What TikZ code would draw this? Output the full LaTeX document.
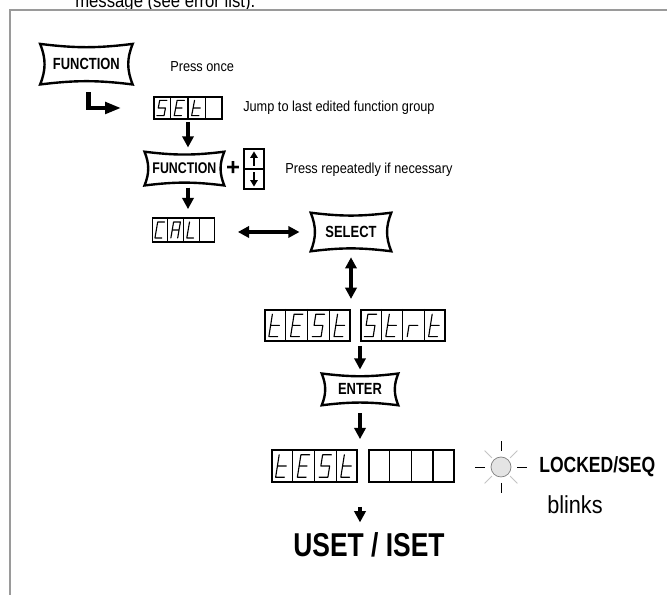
\documentclass[tikz,border=0pt]{standalone}
\usepackage{fontspec}
\setmainfont{Liberation Sans}
\newfontfamily\condfont[FakeStretch=0.8]{Liberation Sans}
\newfontfamily\bodyfont[FakeStretch=0.88]{Liberation Sans}
\usepackage{tikz}
\usetikzlibrary{arrows.meta,calc,positioning}
\definecolor{frameGray}{HTML}{9A9A9A}
\definecolor{ledFill}{HTML}{E4E4E4}
\definecolor{ledRay}{HTML}{C4C4C4}
\tikzset{
  manual diagram/.style={line cap=butt, line join=miter},
  push key/.style={inner sep=0pt, font=\condfont\bfseries\fontsize{11.5}{13}\selectfont},
  key line/.style={draw=black, line width=1.7pt, line join=miter},
  disp/.style={draw=black, line width=1.2pt, inner sep=0pt},
  cell line/.style={draw=black, line width=0.8pt},
  seg line/.style={draw=black, line width=0.8pt, line join=round, line cap=round},
  step arrow/.style={-{Triangle[length=2.8mm,width=2.8mm]}, line width=2.5pt},
  both arrow/.style={{Triangle[length=2.8mm,width=2.8mm]}-{Triangle[length=2.8mm,width=2.8mm]}, line width=2.5pt},
  turn arrow/.style={-{Triangle[length=4mm,width=2.8mm]}, line width=3pt},
  small arrow/.style={-{Triangle[length=1.6mm,width=1.8mm]}, line width=1.5pt},
  arrow key/.style={draw=black, line width=1.2pt, minimum size=0.5cm, inner sep=0pt},
  note/.style={font=\bodyfont\fontsize{10.3}{12}\selectfont, anchor=west, inner sep=0pt},
  frame line/.style={draw=frameGray, line width=1pt},
  led/.style={circle, draw=gray, fill=ledFill, line width=0.5pt, minimum size=0.5cm, inner sep=0pt},
  led tick/.style={draw=black, line width=0.6pt},
  led ray/.style={draw=ledRay, line width=0.6pt},
  pics/gS/.style={code={\draw[seg line] (0.14,0.2) -- (-0.06,0.2) -- (-0.1,0) -- (0.1,0) -- (0.06,-0.2) -- (-0.14,-0.2);}},
  pics/gE/.style={code={\draw[seg line] (0.14,0.2) -- (-0.06,0.2) -- (-0.14,-0.2) -- (0.06,-0.2) (-0.1,0) -- (0.08,0);}},
  pics/gt/.style={code={\draw[seg line] (-0.06,0.2) -- (-0.14,-0.2) -- (0.06,-0.2) (-0.1,0) -- (0.1,0);}},
  pics/gr/.style={code={\draw[seg line] (-0.14,-0.2) -- (-0.1,0) -- (0.1,0);}},
  pics/gC/.style={code={\draw[seg line] (0.14,0.2) -- (-0.06,0.2) -- (-0.14,-0.2) -- (0.06,-0.2);}},
  pics/gA/.style={code={\draw[seg line] (-0.14,-0.2) -- (-0.06,0.2) -- (0.14,0.2) -- (0.06,-0.2) (-0.1,0) -- (0.1,0);}},
  pics/gL/.style={code={\draw[seg line] (-0.06,0.2) -- (-0.14,-0.2) -- (0.06,-0.2);}},
  pics/gn/.style={code={}}
}
% outline of a push key round a named node
\newcommand\keyoutline[1]{%
  \draw[key line] (#1.north west) to[bend right=7] (#1.north east)
    to[bend right=22] (#1.south east) to[bend right=7] (#1.south west)
    to[bend right=22] (#1.north west) -- cycle;}
% four-cell display: name, glyphs, glyph options
\newcommand\segdisplay[3]{%
  \foreach \i in {1,2,3}
    \draw[cell line] ($(#1.north west)!\i/4!(#1.north east)$) -- ($(#1.south west)!\i/4!(#1.south east)$);
  \foreach \g [count=\i] in {#2}
    \pic[#3] at ($(#1.west)!{(\i-0.5)/4}!(#1.east)$) {g\g};}

\begin{document}
\begin{tikzpicture}[manual diagram]
\useasboundingbox (0,0) rectangle (16.675,14.875);
\node[anchor=base west, inner sep=0pt, font=\bodyfont\fontsize{13.5}{15}\selectfont] (head) at (1.875,14.69) {message (see error list).};
\draw[frame line] (0.25,0) -- (0.25,14.625) -- (16.675,14.625);

% keys
\node[push key, minimum width=2.3cm, minimum height=1.0cm] (f1) at (2.16,13.27) {FUNCTION};
\node[push key, minimum width=1.98cm, minimum height=0.83cm, font=\condfont\bfseries\fontsize{11}{12}\selectfont] (f2) at (4.61,10.66) {FUNCTION};
\node[push key, minimum width=2.0cm, minimum height=0.95cm] (sel) at (8.775,9.075) {SELECT};
\node[push key, minimum width=1.9cm, minimum height=0.78cm] (enter) at (9.0,5.14) {ENTER};
\keyoutline{f1}
\keyoutline{f2}
\keyoutline{sel}
\keyoutline{enter}
\node[inner sep=0pt, font=\bfseries\fontsize{17}{18}\selectfont] (plus) at (5.83,10.65) {+};
\node[arrow key] (up) at (6.35,10.9) {};
\node[arrow key] (down) at (6.35,10.4) {};
\draw[small arrow] ([yshift=-0.17cm]up.center) -- ([yshift=0.19cm]up.center);
\draw[small arrow] ([yshift=0.17cm]down.center) -- ([yshift=-0.19cm]down.center);

% displays
\node[disp, minimum width=1.7cm, minimum height=0.55cm] (set) at (4.70,12.175) {};
\segdisplay{set}{S,E,t}{xscale=0.9,yscale=0.95}
\node[disp, minimum width=1.55cm, minimum height=0.6cm] (cal) at (4.59,9.125) {};
\segdisplay{cal}{C,A,L}{xscale=0.85,yscale=1.0}
\node[disp, minimum width=2.13cm, minimum height=0.78cm] (tst) at (7.69,6.74) {};
\segdisplay{tst}{t,E,S,t}{xscale=1.1,yscale=1.4}
\node[disp, minimum width=2.1cm, minimum height=0.78cm, right=0.22cm of tst] (strt) {};
\segdisplay{strt}{S,t,r,t}{xscale=1.1,yscale=1.4}
\node[disp, minimum width=2.13cm, minimum height=0.8cm] (tst2) at (7.86,3.225) {};
\segdisplay{tst2}{t,E,S,t}{xscale=1.1,yscale=1.4}
\node[disp, minimum width=2.13cm, minimum height=0.8cm, right=0.25cm of tst2] (blank) {};
\segdisplay{blank}{n}{}

% texts
\node[note] (once) at (4.25,13.22) {Press once};
\node[note] (jump) at (6.075,12.175) {Jump to last edited function group};
\node[note] (repeat) at (7.125,10.625) {Press repeatedly if necessary};
\node[inner sep=0pt, font=\condfont\bfseries\fontsize{23.5}{26}\selectfont] (uset) at (9.225,1.25) {USET / ISET};

% status lamp
\node[led] (led) at (12.525,3.2) {};
\foreach \a in {0,90,180,270}
  \draw[led tick] ([shift={(\a:0.4)}]led.center) -- ([shift={(\a:0.66)}]led.center);
\foreach \a in {45,135,225,315}
  \draw[led ray] ([shift={(\a:0.32)}]led.center) -- ([shift={(\a:0.58)}]led.center);
\node[anchor=west, inner sep=0pt, font=\condfont\bfseries\fontsize{15.6}{17}\selectfont] (locked) at (13.475,3.2) {LOCKED/SEQ};
\node[anchor=west, inner sep=0pt, font=\bodyfont\fontsize{17.5}{19}\selectfont] (blinks) at (13.675,2.25) {blinks};

% connectors
\draw[turn arrow] ([xshift=0.05cm,yshift=-0.2cm]f1.south) |- ([xshift=-0.8cm]set.west);
\draw[step arrow, shorten <=1.5pt, shorten >=3pt] (set.south) -- (set.south |- f2.north);
\draw[step arrow, shorten <=1.5pt, shorten >=0.2cm] (set.south |- f2.south) -- (set.south |- cal.north);
\draw[both arrow, shorten <=0.56cm, shorten >=0.28cm] (cal.east |- sel.west) -- (sel.west);
\draw[both arrow, shorten <=0.15cm, shorten >=0.25cm] (sel.south) -- (sel.south |- tst.north);
\draw[step arrow, shorten <=0.1cm, shorten >=0.1cm] (enter.north |- tst.south) -- (enter.north);
\draw[step arrow, shorten <=0.2cm, shorten >=0.25cm] (enter.south) -- (enter.south |- tst2.north);
\draw[step arrow, shorten <=0.6cm, shorten >=0.25cm] (enter.south |- tst2.south) -- (enter.south |- uset.north);
\end{tikzpicture}
\end{document}
